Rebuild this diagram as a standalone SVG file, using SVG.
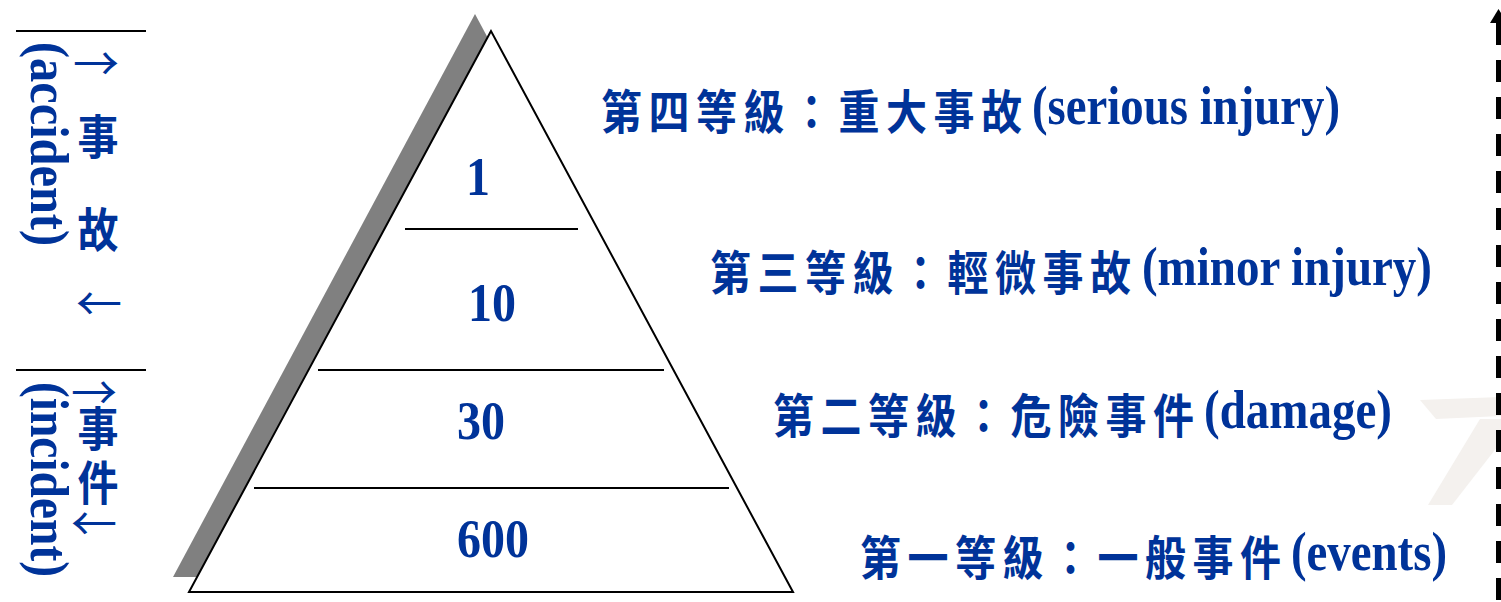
<svg xmlns="http://www.w3.org/2000/svg" width="1501" height="602" viewBox="0 0 1501 602">
<style>
.cjk{font-family:"Noto Sans CJK TC","Noto Sans CJK SC",sans-serif;font-weight:700;fill:#003399;font-size:41px}
.en{font-family:"Liberation Serif","Noto Sans CJK TC",serif;font-weight:700;fill:#003399;font-size:47px}
.num{font-family:"Liberation Serif",serif;font-weight:700;fill:#003399;font-size:48px;text-anchor:middle}
.arr{font-family:"Noto Sans CJK TC",sans-serif;font-weight:400;fill:#003399;font-size:46px;text-anchor:middle}
.side{font-family:"Liberation Serif",serif;font-weight:700;fill:#003399;font-size:48px}
.rule{stroke:#000;stroke-width:2;fill:none}
.dash{stroke:#000;stroke-width:5;stroke-dasharray:22 15;fill:none}
</style>
<rect width="1501" height="602" fill="#fff"/>
<!-- faint watermark -->
<g id="watermark" fill="#f4f1ee">
<polygon points="1420,400 1501,397 1501,416 1436,419"/>
<polygon points="1480,419 1501,419 1501,442 1452,505 1428,505"/>
</g>
<!-- pyramid -->
<g id="pyramid">
<polygon points="475,14 173,577 777,577" fill="#808080"/>
<polygon points="491,31 189,592 793,592" fill="#fff" stroke="#000" stroke-width="2"/>
<line class="rule" x1="405" y1="229" x2="578" y2="229"/>
<line class="rule" x1="318" y1="370" x2="664" y2="370"/>
<line class="rule" x1="254" y1="488" x2="729" y2="488"/>
</g>
<g id="n1" transform="translate(478,195) scale(1,1.15)"><text class="num" x="0" y="0">1</text></g>
<g id="n10" transform="translate(492,321) scale(1,1.15)"><text class="num" x="0" y="0">10</text></g>
<g id="n30" transform="translate(481,439) scale(1,1.15)"><text class="num" x="0" y="0">30</text></g>
<g id="n600" transform="translate(493,557) scale(1,1.15)"><text class="num" x="0" y="0">600</text></g>
<!-- level labels -->
<g id="level4" transform="translate(601,124) scale(1,1.15)">
<text class="cjk" x="0" y="4" letter-spacing="6.5">第四等級：重大事故</text>
<text class="en" x="431" y="0" textLength="308" lengthAdjust="spacingAndGlyphs">(serious injury)</text>
</g>
<g id="level3" transform="translate(710,285) scale(1,1.15)">
<text class="cjk" x="0" y="4" letter-spacing="6.5">第三等級：輕微事故</text>
<text class="en" x="432" y="0" textLength="290" lengthAdjust="spacingAndGlyphs">(minor injury)</text>
</g>
<g id="level2" transform="translate(773,428) scale(1,1.15)">
<text class="cjk" x="0" y="4" letter-spacing="6.5">第二等級：危險事件</text>
<text class="en" x="431" y="0" textLength="188" lengthAdjust="spacingAndGlyphs">(damage)</text>
</g>
<g id="level1" transform="translate(860,570) scale(1,1.15)">
<text class="cjk" x="0" y="4" letter-spacing="6.5">第一等級：一般事件</text>
<text class="en" x="431" y="0" textLength="156" lengthAdjust="spacingAndGlyphs">(events)</text>
</g>
<!-- left side: accident -->
<g id="accident">
<line class="rule" x1="16" y1="31" x2="146" y2="31"/>
<text class="side" transform="translate(31,42) rotate(90) scale(1,1.15)" x="0" y="0" textLength="204" lengthAdjust="spacingAndGlyphs">(accident)</text>
<text class="arr" x="96" y="80">→</text>
<g transform="translate(98,154) scale(1,1.15)"><text class="cjk" x="0" y="0" text-anchor="middle">事</text></g>
<g transform="translate(98,247) scale(1,1.15)"><text class="cjk" x="0" y="0" text-anchor="middle">故</text></g>
<text class="arr" x="99" y="320">←</text>
</g>
<!-- left side: incident -->
<g id="incident">
<line class="rule" x1="16" y1="370" x2="146" y2="370"/>
<text class="side" transform="translate(31,382) rotate(90) scale(1,1.15)" x="0" y="0" textLength="195" lengthAdjust="spacingAndGlyphs">(incident)</text>
<text class="arr" x="94" y="409">→</text>
<g transform="translate(98,446) scale(1,1.15)"><text class="cjk" x="0" y="0" text-anchor="middle">事</text></g>
<g transform="translate(98,500) scale(1,1.15)"><text class="cjk" x="0" y="0" text-anchor="middle">件</text></g>
<text class="arr" x="94" y="540">←</text>
</g>
<!-- connectors -->
<g id="connectors">
<line class="dash" x1="1498.5" y1="23" x2="1498.5" y2="602"/>
<polygon points="1490,23 1498.5,9 1507,23" fill="#000"/>
</g>
</svg>
